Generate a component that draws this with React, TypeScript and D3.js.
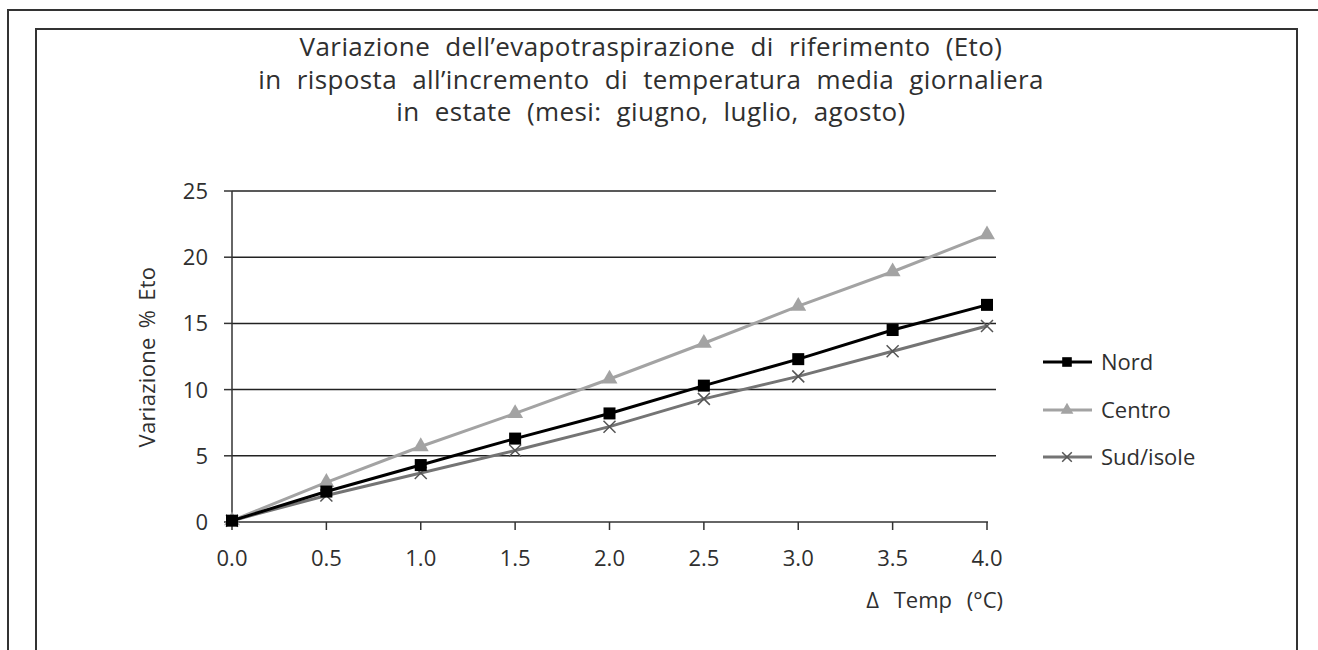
import React from "react";
import * as d3 from "d3";

const deltaTemp = [0, 0.5, 1.0, 1.5, 2.0, 2.5, 3.0, 3.5, 4.0];
const nord = [0.1, 2.3, 4.3, 6.3, 8.2, 10.3, 12.3, 14.5, 16.4];
const centro = [0.1, 3.0, 5.7, 8.2, 10.8, 13.5, 16.3, 18.9, 21.7];
const sudIsole = [0.1, 2.0, 3.7, 5.4, 7.2, 9.3, 11.0, 12.9, 14.8];
const yTicks = [0, 5, 10, 15, 20, 25];
const seriesNames = ["Nord", "Centro", "Sud/isole"];
const titleLines = [
  "Variazione dell\u2019evapotraspirazione di riferimento (Eto)",
  "in risposta all\u2019incremento di temperatura media giornaliera",
  "in estate (mesi: giugno, luglio, agosto)",
];

const FONT = "'Open Sans', Lato, sans-serif";

export default function App() {
  const W = 1318, H = 650;
  const x = d3.scaleLinear().domain([0, 4]).range([232, 987]);
  const y = d3.scaleLinear().domain([0, 25]).range([522, 191]);
  const colors = ["#000000", "#a3a3a3", "#747474"];
  const data = [nord, centro, sudIsole];
  const line = d3
    .line<number>()
    .x((_, i) => x(deltaTemp[i]))
    .y((d) => y(d));

  const marker = (s: number, cx: number, cy: number, key: string, size = 1) => {
    if (s === 0) {
      const h = 6 * size;
      return <rect key={key} x={cx - h} y={cy - h} width={2 * h} height={2 * h} fill={colors[0]} />;
    }
    if (s === 1) {
      const sym = d3.symbol().type(d3.symbolTriangle).size(110 * size * size)();
      return <path key={key} d={sym || ""} transform={`translate(${cx},${cy})`} fill={colors[1]} />;
    }
    const h = 6 * size;
    return (
      <path
        key={key}
        d={`M${cx - h},${cy - h}L${cx + h},${cy + h}M${cx - h},${cy + h}L${cx + h},${cy - h}`}
        stroke="#555"
        strokeWidth={1.5}
        fill="none"
      />
    );
  };

  const legendY = [362, 410, 457];
  const textColor = "#2f2f2f";

  return (
    <svg width={W} height={H} style={{ position: "absolute", left: 0, top: 0 }} fontFamily={FONT}>
      <rect width={W} height={H} fill="#fff" />
      {/* frames */}
      <path d={`M8,${H}V10H${W}`} stroke="#333" strokeWidth={2} fill="none" />
      <path d={`M36,${H}V29H1297V${H}`} stroke="#333" strokeWidth={2} fill="none" />
      {/* title */}
      {titleLines.map((t, i) => (
        <text
          key={i}
          x={651}
          y={56 + i * 32.5}
          textAnchor="middle"
          fontSize={26}
          fill={textColor}
          style={{ wordSpacing: "8px", letterSpacing: "0.4px" }}
        >
          {t}
        </text>
      ))}
      {/* gridlines */}
      {yTicks.slice(1).map((t) => (
        <line key={t} x1={232} x2={996} y1={y(t)} y2={y(t)} stroke="#222" strokeWidth={1.5} />
      ))}
      {/* axes */}
      <line x1={232} x2={232} y1={y(25)} y2={y(0)} stroke="#333" strokeWidth={1.5} />
      <line x1={232} x2={988} y1={y(0)} y2={y(0)} stroke="#333" strokeWidth={1.5} />
      {yTicks.map((t) => (
        <g key={t}>
          <line x1={224} x2={232} y1={y(t)} y2={y(t)} stroke="#333" strokeWidth={1.5} />
          <text x={208} y={y(t) + 8} textAnchor="end" fontSize={22} fill={textColor}>
            {t}
          </text>
        </g>
      ))}
      {deltaTemp.map((t) => (
        <g key={t}>
          <line x1={x(t)} x2={x(t)} y1={y(0)} y2={y(0) + 8} stroke="#333" strokeWidth={1.5} />
          <text x={x(t)} y={566} textAnchor="middle" fontSize={22} fill={textColor}>
            {t.toFixed(1)}
          </text>
        </g>
      ))}
      <text
        transform={`translate(155,357) rotate(-90)`}
        textAnchor="middle"
        fontSize={22}
        fill={textColor}
        style={{ wordSpacing: "3px", letterSpacing: "0.3px" }}
      >
        Variazione % Eto
      </text>
      <text x={1003} y={608} textAnchor="end" fontSize={22} fill={textColor} style={{ wordSpacing: "9px" }}>
        Δ Temp (°C)
      </text>
      {/* series */}
      {[1, 2, 0].map((s) => (
        <g key={s}>
          <path d={line(data[s]) || ""} stroke={colors[s]} strokeWidth={3} fill="none" />
          {data[s].map((v, i) => marker(s, x(deltaTemp[i]), y(v), `${s}-${i}`))}
        </g>
      ))}
      {/* legend */}
      {seriesNames.map((n, s) => (
        <g key={n}>
          <line x1={1043} x2={1092} y1={legendY[s]} y2={legendY[s]} stroke={colors[s]} strokeWidth={3} />
          {marker(s, 1067, legendY[s], `l${s}`, 0.8)}
          <text x={1101} y={legendY[s] + 8} fontSize={22} fill={textColor}>
            {n}
          </text>
        </g>
      ))}
    </svg>
  );
}
